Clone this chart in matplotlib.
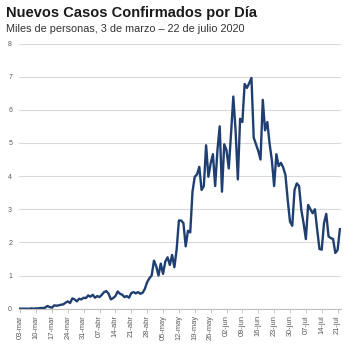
import matplotlib
matplotlib.use("Agg")
import matplotlib.pyplot as plt
import numpy as np

plt.rcParams['font.family'] = ['Liberation Sans', 'DejaVu Sans']

tick_labels = ["03-mar", "10-mar", "17-mar", "24-mar", "31-mar", "07-abr", "14-abr",
               "21-abr", "28-abr", "05-may", "12-may", "19-may", "26-may", "02-jun",
               "09-jun", "16-jun", "23-jun", "30-jun", "07-jul", "14-jul", "21-jul"]

# daily new confirmed cases (thousands), 3 Mar - 22 Jul 2020
march = [0.00, 0.00, 0.00, 0.00, 0.00, 0.01, 0.00,
         0.01, 0.01, 0.02, 0.02, 0.03, 0.08, 0.05,
         0.03, 0.10, 0.09, 0.10, 0.12, 0.13, 0.18,
         0.22, 0.17, 0.31, 0.28, 0.22, 0.30, 0.28,
         0.33]
april = [0.32, 0.40, 0.36, 0.42, 0.33, 0.38,
         0.35, 0.42, 0.50, 0.53, 0.45, 0.28, 0.32,
         0.38, 0.52, 0.45, 0.42, 0.35, 0.38, 0.33,
         0.47, 0.50, 0.46, 0.50, 0.45, 0.48, 0.60,
         0.80, 0.92, 1.00]
may = [1.45, 1.28, 1.00, 1.36, 1.05, 1.42, 1.55, 1.32, 1.62, 1.25,
       1.78, 2.66, 2.66, 2.58, 1.88, 2.35, 2.30, 3.53, 3.98, 4.05,
       4.28, 3.58, 3.70, 4.93, 3.98, 4.38, 4.66, 3.70, 4.78, 5.50, 3.53]
june = [4.96, 4.78, 4.23, 5.28, 6.40, 5.38, 3.90, 5.73, 5.63, 6.78,
        6.66, 6.80, 6.96, 5.16, 4.96, 4.76, 4.50, 6.30, 5.38, 5.63,
        4.98, 4.48, 3.70, 4.66, 4.30, 4.40, 4.26, 4.03, 3.28, 2.63]
july = [2.50, 3.58, 3.78, 3.70, 2.98, 2.58, 2.10, 3.13, 3.00, 2.88,
        3.00, 2.38, 1.80, 1.78, 2.58, 2.86, 2.18, 2.13, 2.10, 1.68,
        1.77, 2.40]

values = march + april + may + june + july
x = np.arange(len(values))

fig = plt.figure(figsize=(3.53, 3.48), dpi=100)
ax = fig.add_axes([0.054, 0.113, 0.912, 0.762])

ax.plot(x, values, color='#1f3f72', lw=1.7, solid_joinstyle='round')

ax.set_xlim(-0.5, len(values) - 0.5)
ax.set_ylim(0, 8)
ax.set_yticks(range(0, 9))
ax.set_yticklabels([str(v) for v in range(0, 9)])
ax.grid(axis='y', color='#d9d9d9', lw=0.8)
ax.set_axisbelow(True)

ax.set_xticks(np.arange(0, len(values), 7))
ax.set_xticklabels(tick_labels, rotation=90)

for s in ['top', 'right', 'left']:
    ax.spines[s].set_visible(False)
ax.spines['bottom'].set_color('#bfbfbf')
ax.spines['bottom'].set_linewidth(0.8)

ax.tick_params(axis='y', length=0, labelsize=5, labelcolor='#595959', pad=5)
ax.tick_params(axis='x', length=3, width=0.6, color='#bfbfbf', labelsize=5.4,
               labelcolor='#595959', pad=1.5)

fig.text(0.017, 0.962, "Nuevos Casos Confirmados por Día", fontsize=10.5,
         fontweight='bold', color='#1a1a1a', va='center', ha='left')
fig.text(0.017, 0.918, "Miles de personas, 3 de marzo – 22 de julio 2020", fontsize=7.8,
         color='#333333', va='center', ha='left')

fig.savefig("out.png", dpi=100, facecolor='white')
